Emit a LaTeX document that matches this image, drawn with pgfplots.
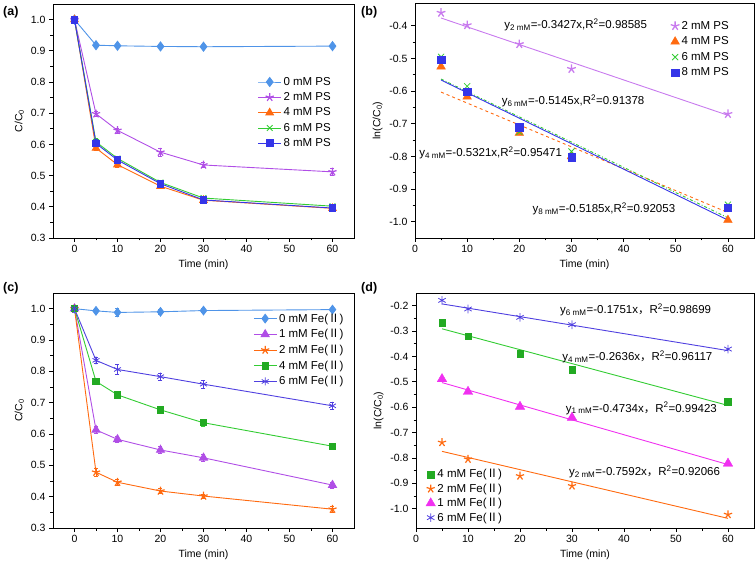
\documentclass[border=0pt]{standalone}
\usepackage{fontspec}
\setmainfont{Liberation Sans}
\newfontfamily\cjk{Noto Sans CJK SC}
\usepackage{pgfplots}
\pgfplotsset{compat=1.18}
\newcommand{\FeII}{Fe({\cjk Ⅱ})}
\definecolor{cA}{HTML}{4F94E8}
\definecolor{cP}{HTML}{B04EE6}
\definecolor{cPl}{HTML}{C87AEE}
\definecolor{cO}{HTML}{FF6A10}
\definecolor{cG}{HTML}{33CC33}
\definecolor{cGd}{HTML}{22AA22}
\definecolor{cB}{HTML}{3535E8}
\definecolor{cV}{HTML}{5040E0}
\definecolor{cM}{HTML}{F030F0}
\pgfplotsset{
  myax/.style={
    scale only axis,
    axis line style={black, line width=0.8pt},
    tick align=outside, xtick pos=bottom, ytick pos=left,
    minor tick num=1, major tick length=4pt, minor tick length=2.5pt,
    every tick/.style={black, line width=0.7pt},
    ticklabel style={font=\fontsize{10.5}{12}\selectfont},
    /pgf/number format/assume math mode=true,
    label style={font=\fontsize{10.5}{12}\selectfont},
    yticklabel style={/pgf/number format/.cd, fixed, fixed zerofill, precision=1},
    xlabel={Time (min)},
    legend cell align=left,
    legend style={draw=none, fill=none, font=\fontsize{11.5}{13.5}\selectfont, row sep=1.8pt},
    clip=false,
  },
  lineleg/.style={legend image code/.code={\draw[mark repeat=2,mark phase=2] plot coordinates {(0cm,0cm) (0.4cm,0cm) (0.8cm,0cm)};}},
  eb/.style={error bars/.cd, y dir=both, y explicit, error bar style={line width=0.6pt}, error mark options={rotate=90, mark size=2pt, line width=0.6pt}},
}
\begin{document}
\begin{tikzpicture}
\useasboundingbox (0,0) rectangle (756pt,566pt);
% ---------------- (a)
\begin{axis}[myax, lineleg, at={(53pt,328pt)}, anchor=south west, width=301pt, height=234pt,
  xmin=-5, xmax=65, ymin=0.3, ymax=1.05, xtick={0,10,...,60}, ytick={0.3,0.4,...,1.0},
  ylabel={C/C\textsubscript{0}},
  legend style={at={(0.67,0.705)}, anchor=north west}]
\addplot[cA, line width=0.9pt, mark=diamond*, mark size=4.5pt, mark options={solid, fill=cA, draw=cA}, eb]
  table[x=x, y=y, y error=e] {
x y e
0 1.000 0.003
5 0.918 0.006
10 0.916 0.005
20 0.914 0.004
30 0.913 0.004
60 0.915 0.004
};
\addlegendentry{0 mM PS}
\addplot[cP, line width=0.9pt, mark=star, mark size=4.3pt, mark options={solid, fill=cP, draw=cP, line width=1.2pt}, eb]
  table[x=x, y=y, y error=e] {
x y e
0 1.000 0.003
5 0.698 0.008
10 0.645 0.008
20 0.575 0.012
30 0.534 0.008
60 0.512 0.012
};
\addlegendentry{2 mM PS}
\addplot[cO, line width=0.9pt, mark=triangle*, mark size=4.3pt, mark options={solid, fill=cO, draw=cO}, eb]
  table[x=x, y=y, y error=e] {
x y e
0 1.000 0.004
5 0.588 0.008
10 0.535 0.008
20 0.466 0.008
30 0.421 0.006
60 0.395 0.006
};
\addlegendentry{4 mM PS}
\addplot[cG, line width=0.9pt, mark=x, mark size=4pt, mark options={solid, draw=cG, line width=0.9pt}, eb]
  table[x=x, y=y, y error=e] {
x y e
0 1.000 0.003
5 0.608 0.010
10 0.555 0.008
20 0.478 0.008
30 0.428 0.006
60 0.402 0.006
};
\addlegendentry{6 mM PS}
\addplot[cB, line width=0.9pt, mark=square*, mark size=3.4pt, mark options={solid, fill=cB, draw=cB}, eb]
  table[x=x, y=y, y error=e] {
x y e
0 1.000 0.003
5 0.603 0.012
10 0.550 0.010
20 0.474 0.008
30 0.422 0.006
60 0.396 0.006
};
\addlegendentry{8 mM PS}
\end{axis}
% ---------------- (b)
\begin{axis}[myax, at={(415pt,328pt)}, anchor=south west, width=339pt, height=235pt,
  xmin=0, xmax=65, ymin=-1.05, ymax=-0.33, xtick={0,10,...,60}, ytick={-1.0,-0.9,...,-0.4},
  ylabel={ln(C/C\textsubscript{0})},
  legend style={at={(0.745,0.94)}, anchor=north west, row sep=2pt}]
\addplot[only marks, mark=star, mark size=4.6pt, mark options={draw=cPl, fill=cPl, line width=1.3pt}] coordinates {
(5,-0.360) (10,-0.398) (20,-0.456) (30,-0.532) (60,-0.670)};
\addlegendentry{2 mM PS}
\addplot[only marks, mark=triangle*, mark size=5pt, mark options={draw=cO, fill=cO}] coordinates {
(5,-0.525) (10,-0.617) (20,-0.728) (30,-0.800) (60,-0.995)};
\addlegendentry{4 mM PS}
\addplot[only marks, mark=x, mark size=4.3pt, mark options={draw=cG, line width=0.8pt}] coordinates {
(5,-0.495) (10,-0.585) (20,-0.725) (30,-0.785) (60,-0.948)};
\addlegendentry{6 mM PS}
\addplot[only marks, mark=square*, mark size=3.7pt, mark options={draw=cB, fill=cB}] coordinates {
(5,-0.503) (10,-0.601) (20,-0.710) (30,-0.803) (60,-0.958)};
\addlegendentry{8 mM PS}
\addplot[forget plot, cPl, line width=0.9pt] coordinates {(5,-0.376) (60,-0.674)};
\addplot[forget plot, cO, line width=0.9pt, dashed] coordinates {(5,-0.603) (60,-0.972)};
\addplot[forget plot, cG, line width=0.9pt, dash dot] coordinates {(5,-0.563) (60,-0.988)};
\addplot[forget plot, cB, line width=0.9pt] coordinates {(5,-0.566) (60,-0.995)};
\begin{scope}[every node/.style={font=\fontsize{11.5}{13}\selectfont, anchor=west, inner sep=0pt}]
\node at (axis cs:17.1,-0.398) {y\textsubscript{2 mM}=-0.3427x,R\textsuperscript{2}=0.98585};
\node at (axis cs:16.6,-0.629) {y\textsubscript{6 mM}=-0.5145x,R\textsuperscript{2}=0.91378};
\node at (axis cs:0.8,-0.789) {y\textsubscript{4 mM}=-0.5321x,R\textsuperscript{2}=0.95471};
\node at (axis cs:22.5,-0.961) {y\textsubscript{8 mM}=-0.5185x,R\textsuperscript{2}=0.92053};
\end{scope}
\end{axis}
% ---------------- (c)
\begin{axis}[myax, lineleg, at={(53pt,38pt)}, anchor=south west, width=301pt, height=235pt,
  xmin=-5, xmax=65, ymin=0.3, ymax=1.05, xtick={0,10,...,60}, ytick={0.3,0.4,...,1.0},
  ylabel={C/C\textsubscript{0}},
  legend style={at={(0.655,0.93)}, anchor=north west}]
\addplot[cA, line width=0.9pt, mark=diamond*, mark size=4.3pt, mark options={solid, fill=cA, draw=cA}, eb]
  table[x=x, y=y, y error=e] {
x y e
0 1.000 0.004
5 0.993 0.006
10 0.988 0.013
20 0.990 0.008
30 0.994 0.006
60 0.997 0.004
};
\addlegendentry{0 mM \FeII}
\addplot[cP, line width=0.9pt, mark=triangle*, mark size=4.6pt, mark options={solid, fill=cP, draw=cP}, eb]
  table[x=x, y=y, y error=e] {
x y e
0 1.000 0.004
5 0.613 0.010
10 0.583 0.010
20 0.549 0.012
30 0.524 0.012
60 0.437 0.010
};
\addlegendentry{1 mM \FeII}
\addplot[cO, line width=0.9pt, mark=star, mark size=4.3pt, mark options={solid, fill=cO, draw=cO, line width=1.2pt}, eb]
  table[x=x, y=y, y error=e] {
x y e
0 1.000 0.004
5 0.478 0.012
10 0.446 0.010
20 0.418 0.008
30 0.402 0.006
60 0.360 0.010
};
\addlegendentry{2 mM \FeII}
\addplot[cG, line width=0.9pt, mark=square*, mark size=3.2pt, mark options={solid, fill=cGd, draw=cGd}, eb]
  table[x=x, y=y, y error=e] {
x y e
0 1.000 0.004
5 0.768 0.006
10 0.725 0.008
20 0.677 0.012
30 0.636 0.010
60 0.561 0.008
};
\addlegendentry{4 mM \FeII}
\addplot[cV, line width=0.9pt, mark=asterisk, mark size=4pt, mark options={solid, draw=cV, line width=0.8pt}, eb]
  table[x=x, y=y, y error=e] {
x y e
0 1.000 0.010
5 0.835 0.010
10 0.806 0.016
20 0.783 0.012
30 0.759 0.012
60 0.690 0.010
};
\addlegendentry{6 mM \FeII}
\end{axis}
% ---------------- (d)
\begin{axis}[myax, at={(416pt,38pt)}, anchor=south west, width=338pt, height=235pt,
  xmin=0, xmax=65, ymin=-1.076, ymax=-0.15, xtick={0,10,...,60}, ytick={-1.0,-0.9,...,-0.2},
  ylabel={ln(C/C\textsubscript{0})},
  legend style={at={(0.02,0.005)}, anchor=south west, row sep=0.5pt}]
\addplot[only marks, mark=square*, mark size=3.3pt, mark options={draw=cGd, fill=cGd}] coordinates {
(5,-0.266) (10,-0.321) (20,-0.390) (30,-0.453) (60,-0.579)};
\addlegendentry{4 mM \FeII}
\addplot[only marks, mark=star, mark size=4.3pt, mark options={draw=cO, fill=cO, line width=1.2pt}] coordinates {
(5,-0.739) (10,-0.805) (20,-0.871) (30,-0.910) (60,-1.023)};
\addlegendentry{2 mM \FeII}
\addplot[only marks, mark=triangle*, mark size=5.5pt, mark options={draw=cM, fill=cM}] coordinates {
(5,-0.489) (10,-0.539) (20,-0.598) (30,-0.641) (60,-0.822)};
\addlegendentry{1 mM \FeII}
\addplot[only marks, mark=asterisk, mark size=4.3pt, mark options={draw=cV, line width=0.8pt}] coordinates {
(5,-0.179) (10,-0.213) (20,-0.246) (30,-0.275) (60,-0.371)};
\addlegendentry{6 mM \FeII}
\addplot[forget plot, cV, line width=0.9pt] coordinates {(5,-0.193) (60,-0.377)};
\addplot[forget plot, cG, line width=0.9pt] coordinates {(5,-0.291) (60,-0.593)};
\addplot[forget plot, cM, line width=0.9pt] coordinates {(5,-0.503) (60,-0.826)};
\addplot[forget plot, cO, line width=0.9pt] coordinates {(5,-0.774) (60,-1.038)};
\begin{scope}[every node/.style={font=\fontsize{11.5}{13}\selectfont, anchor=west, inner sep=0pt}]
\node at (axis cs:27.7,-0.216) {y\textsubscript{6 mM}=-0.1751x{\cjk ，}R\textsuperscript{2}=0.98699};
\node at (axis cs:28.1,-0.403) {y\textsubscript{4 mM}=-0.2636x{\cjk ，}R\textsuperscript{2}=0.96117};
\node at (axis cs:28.8,-0.604) {y\textsubscript{1 mM}=-0.4734x{\cjk ，}R\textsuperscript{2}=0.99423};
\node at (axis cs:29.4,-0.855) {y\textsubscript{2 mM}=-0.7592x{\cjk ，}R\textsuperscript{2}=0.92066};
\end{scope}
\end{axis}
% panel labels
\node[anchor=west, inner sep=0pt, font=\bfseries\fontsize{12.5}{14}\selectfont] at (3pt,554pt) {(a)};
\node[anchor=west, inner sep=0pt, font=\bfseries\fontsize{12.5}{14}\selectfont] at (361pt,554pt) {(b)};
\node[anchor=west, inner sep=0pt, font=\bfseries\fontsize{12.5}{14}\selectfont] at (3pt,278pt) {(c)};
\node[anchor=west, inner sep=0pt, font=\bfseries\fontsize{12.5}{14}\selectfont] at (361pt,278pt) {(d)};
\end{tikzpicture}
\end{document}
